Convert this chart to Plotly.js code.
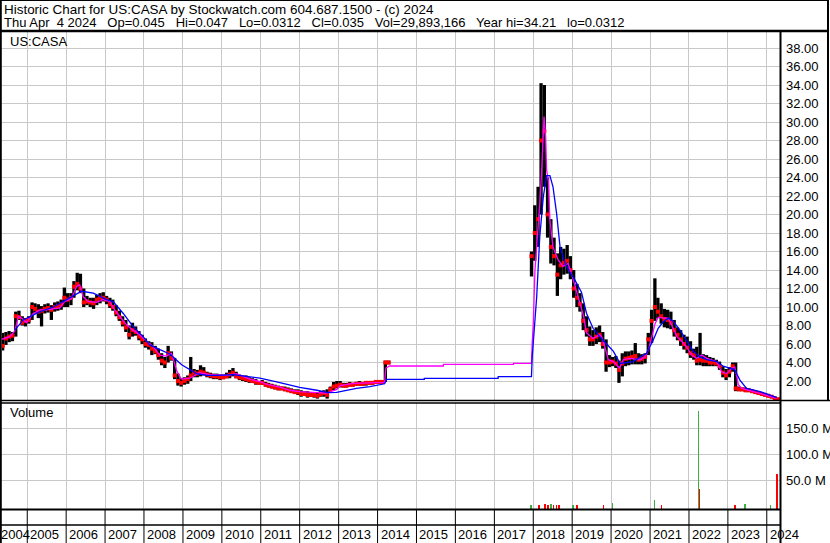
<!DOCTYPE html>
<html><head><meta charset="utf-8">
<script src="https://cdn.plot.ly/plotly-3.0.1.min.js"></script>
<style>html,body{margin:0;padding:0;background:#fff;}#chart{width:830px;height:543px;}</style>
</head><body><div id="chart"></div>
<script>
// ---------- DATA ----------
const months = [
'2004-05','2004-06','2004-07','2004-08','2004-09','2004-10','2004-11','2004-12',
'2005-01','2005-02','2005-03','2005-04','2005-05','2005-06','2005-07','2005-08','2005-09','2005-10','2005-11','2005-12',
'2006-01','2006-02','2006-03','2006-04','2006-05','2006-06','2006-07','2006-08','2006-09','2006-10','2006-11','2006-12',
'2007-01','2007-02','2007-03','2007-04','2007-05','2007-06','2007-07','2007-08','2007-09','2007-10','2007-11','2007-12',
'2008-01','2008-02','2008-03','2008-04','2008-05','2008-06','2008-07','2008-08','2008-09','2008-10','2008-11','2008-12',
'2009-01','2009-02','2009-03','2009-04','2009-05','2009-06','2009-07','2009-08','2009-09','2009-10','2009-11','2009-12',
'2010-01','2010-02','2010-03','2010-04','2010-05','2010-06','2010-07','2010-08','2010-09','2010-10','2010-11','2010-12',
'2011-01','2011-02','2011-03','2011-04','2011-05','2011-06','2011-07','2011-08','2011-09','2011-10','2011-11','2011-12',
'2012-01','2012-02','2012-03','2012-04','2012-05','2012-06','2012-07','2012-08','2012-09','2012-10','2012-11','2012-12',
'2013-01','2013-02','2013-03','2013-04','2013-05','2013-06','2013-07','2013-08','2013-09','2013-10','2013-11','2013-12',
'2014-01','2014-02','2014-03','2014-04',
'2017-12',
'2018-01','2018-02','2018-03','2018-04','2018-05','2018-06','2018-07','2018-08','2018-09','2018-10','2018-11','2018-12',
'2019-01','2019-02','2019-03','2019-04','2019-05','2019-06','2019-07','2019-08','2019-09','2019-10','2019-11','2019-12',
'2020-01','2020-02','2020-03','2020-04','2020-05','2020-06','2020-07','2020-08','2020-09','2020-10','2020-11','2020-12',
'2021-01','2021-02','2021-03','2021-04','2021-05','2021-06','2021-07','2021-08','2021-09','2021-10','2021-11','2021-12',
'2022-01','2022-02','2022-03','2022-04','2022-05','2022-06','2022-07','2022-08','2022-09','2022-10','2022-11','2022-12',
'2023-01','2023-02','2023-03','2023-04','2023-05','2023-06','2023-07','2023-08','2023-09','2023-10','2023-11','2023-12',
'2024-01','2024-02','2024-03','2024-04'
];
const high = [
7.2,7.3,7.4,7.3,9.5,9.6,9.0,8.8,
9.0,10.5,10.4,10.3,10.1,10.3,10.4,10.2,10.5,10.6,10.8,12.1,
11.5,11.5,12.8,13.7,13.6,12.0,11.2,11.0,11.0,11.3,11.5,11.6,
11.2,11.0,10.8,10.2,9.6,9.0,8.6,8.0,8.3,7.9,7.4,7.0,
6.6,6.3,6.2,5.8,5.5,5.0,4.6,5.8,5.2,4.5,2.8,2.3,
2.4,2.6,4.6,3.3,3.2,3.7,3.5,3.0,2.9,2.8,2.8,2.7,
2.7,2.9,3.2,3.4,3.0,2.7,2.6,2.6,2.4,2.3,2.2,2.0,
2.1,1.9,1.8,1.7,1.6,1.5,1.4,1.4,1.3,1.2,1.1,1.1,
1.0,0.9,0.9,0.8,0.8,0.8,0.9,1.0,1.1,1.4,1.9,2.0,
2.0,1.8,1.8,1.9,1.8,1.9,2.0,1.9,2.0,2.0,2.0,2.0,
2.0,2.0,4.2,4.2,
16.0,
21.0,23.0,34.2,34.0,24.0,19.5,17.5,15.8,16.5,16.3,16.7,15.5,
14.0,12.5,11.5,10.4,9.0,7.9,7.5,7.8,8.0,7.3,6.5,4.8,
4.6,4.7,4.2,5.0,5.2,5.2,5.3,6.1,5.0,4.9,5.0,7.2,
9.7,13.1,11.0,10.4,9.8,9.7,9.5,8.6,7.8,7.5,7.0,6.8,
6.3,5.5,5.7,7.2,4.9,4.8,4.6,4.5,4.3,4.1,3.6,3.3,
3.5,4.0,4.0,1.4,1.3,1.3,1.2,1.1,1.0,0.9,0.8,0.7,
0.6,0.45,0.3,0.1
];
const low = [
5.3,5.9,6.2,6.3,6.8,8.6,8.0,7.9,
8.2,8.6,9.3,8.8,7.9,9.3,9.4,8.6,9.5,9.6,9.7,10.0,
10.0,10.2,11.0,11.8,11.5,10.0,10.2,10.0,9.8,10.2,10.4,10.6,
10.3,9.9,9.6,9.0,8.5,7.9,7.3,6.5,6.8,6.9,6.4,6.0,
5.6,5.4,4.8,4.9,4.3,3.7,3.4,4.0,4.2,2.2,1.5,1.4,
1.6,1.7,2.0,2.4,2.4,2.5,2.6,2.4,2.3,2.2,2.2,2.1,
2.2,2.3,2.3,2.5,2.3,2.1,2.0,1.9,1.8,1.8,1.6,1.6,
1.6,1.4,1.3,1.2,1.1,1.0,1.0,0.9,0.8,0.7,0.6,0.5,
0.3,0.4,0.2,0.3,0.2,0.1,0.3,0.3,0.1,0.7,1.0,1.2,
1.3,1.3,1.3,1.4,1.4,1.5,1.5,1.5,1.5,1.6,1.6,1.7,
1.7,1.8,1.9,3.8,
13.3,
15.0,16.5,20.0,23.0,17.5,14.7,14.5,11.2,13.0,13.5,13.6,13.0,
11.0,10.0,9.5,7.5,6.8,5.8,5.8,6.0,6.2,5.5,3.0,3.5,
3.6,3.4,1.8,2.5,3.6,3.7,3.8,3.8,3.8,3.8,3.9,4.8,
6.1,8.5,8.8,8.2,7.8,7.7,7.6,6.8,6.4,5.8,5.4,5.0,
4.5,4.3,3.7,3.7,3.6,3.6,3.6,3.6,3.6,3.2,2.4,2.1,
2.4,3.0,0.9,0.9,0.9,0.8,0.8,0.7,0.6,0.5,0.4,0.35,
0.25,0.15,0.05,0.03
];
const close = [
5.8,6.6,6.8,6.9,9.0,8.9,8.3,8.5,
8.6,10.0,9.8,9.5,9.6,9.8,9.9,9.7,10.0,10.1,10.3,11.0,
10.8,11.0,12.2,12.5,12.0,10.5,10.6,10.5,10.4,10.8,11.0,11.0,
10.8,10.3,10.0,9.4,8.9,8.3,7.8,7.0,7.5,7.3,6.8,6.5,
6.0,5.9,5.5,5.2,4.8,4.2,4.0,5.0,4.5,2.6,2.0,1.8,
2.0,2.2,2.6,2.9,2.8,3.0,2.9,2.7,2.6,2.5,2.5,2.4,
2.4,2.5,2.7,2.9,2.5,2.4,2.3,2.2,2.1,2.0,1.9,1.8,
1.8,1.6,1.5,1.4,1.3,1.2,1.2,1.1,1.0,0.9,0.8,0.8,
0.6,0.6,0.5,0.5,0.5,0.4,0.6,0.7,0.5,1.1,1.4,1.5,
1.6,1.5,1.5,1.6,1.6,1.7,1.7,1.7,1.8,1.8,1.8,1.9,
1.9,1.9,4.0,4.0,
15.5,
18.0,19.5,28.0,29.0,20.0,16.5,15.5,13.5,14.5,14.8,15.0,14.0,
12.0,11.0,10.3,8.5,7.5,6.5,6.5,6.8,7.0,6.0,4.0,4.0,
4.1,3.9,3.2,3.9,4.4,4.5,4.6,4.7,4.3,4.4,4.6,6.5,
8.5,10.0,9.5,9.0,8.7,8.6,8.3,7.5,7.0,6.5,6.0,5.6,
5.0,4.8,4.2,4.3,4.2,4.2,4.0,4.0,3.9,3.6,2.9,2.6,
3.0,3.6,1.2,1.1,1.1,1.0,1.0,0.9,0.8,0.7,0.6,0.5,
0.4,0.3,0.15,0.035
];

// 50-day moving average (magenta)
const ma50Dates = ['2004-05-05','2004-07-20','2004-09-06','2004-10-10','2004-11-07','2004-12-24','2005-02-25','2005-05-01','2005-07-01','2005-09-02','2005-11-03','2005-12-20','2006-02-20','2006-04-08','2006-05-08','2006-06-10','2006-07-27','2006-10-12','2006-12-13','2007-02-14','2007-04-01','2007-05-18','2007-07-19','2007-09-20','2007-11-21','2008-01-26','2008-03-28','2008-05-29','2008-07-30','2008-09-16','2008-11-03','2008-12-17','2009-03-07','2009-06-05','2009-09-09','2010-02-14','2010-05-19','2010-09-20','2011-01-01','2011-02-25','2011-06-28','2011-10-01','2012-01-01','2012-09-10','2012-12-15','2013-01-15','2013-05-20','2014-03-08','2014-03-20','2014-04-25','2015-09-10','2015-09-11','2017-06-28','2017-06-29','2017-12-15','2017-12-22','2018-01-01','2018-01-17','2018-02-17','2018-03-03','2018-03-21','2018-04-05','2018-04-12','2018-04-27','2018-05-06','2018-05-22','2018-06-06','2018-07-05','2018-08-22','2018-10-08','2018-11-24','2019-01-12','2019-03-14','2019-04-16','2019-05-16','2019-07-16','2019-09-16','2019-10-05','2019-11-03','2019-12-06','2020-01-23','2020-03-20','2020-04-23','2020-06-28','2020-09-27','2020-11-14','2020-12-17','2021-01-15','2021-02-17','2021-03-18','2021-05-05','2021-06-22','2021-07-25','2021-09-10','2021-10-24','2021-12-10','2022-01-26','2022-03-14','2022-05-01','2022-06-18','2022-09-17','2022-11-03','2022-12-20','2023-02-06','2023-03-07','2023-03-25','2023-04-09','2023-05-12','2023-07-13','2023-10-31','2024-04-04'];
const ma50 = [6.5,6.8,7.4,9.0,8.8,8.3,9.3,9.7,9.7,9.8,9.9,10.6,10.9,12.2,12.4,11.1,10.6,10.5,10.8,10.6,9.7,9.0,8.1,7.5,7.0,6.3,5.7,4.8,4.7,5.0,3.1,2.2,2.3,2.9,2.7,2.6,2.8,2.2,1.9,1.65,1.35,1.0,0.85,0.7,1.1,1.5,1.75,1.85,3.4,3.62,3.62,3.8,3.8,3.9,3.9,6.1,8.2,14.0,18.7,21.2,24.8,30.2,30.6,28.4,24.8,23.7,19.4,16.5,15.1,14.4,14.7,12.9,10.4,9.1,7.2,6.6,7.0,6.8,5.7,4.3,4.1,3.4,4.3,4.45,4.3,4.6,5.4,6.8,8.2,8.9,8.8,8.8,7.9,6.8,6.3,5.7,4.8,4.45,4.8,4.45,4.1,3.0,2.8,3.4,3.5,2.5,1.6,1.2,1.0,0.6,0.13];

// 200-day moving average (blue)
const ma200Dates = ['2004-09-06','2004-11-24','2005-05-01','2005-09-02','2006-01-04','2006-05-26','2006-09-13','2007-01-15','2007-03-18','2007-06-21','2007-09-20','2007-12-24','2008-02-24','2008-05-29','2008-09-02','2008-12-20','2009-03-07','2009-05-08','2009-08-11','2009-11-14','2010-04-16','2010-09-20','2010-12-24','2011-05-30','2011-12-02','2012-01-01','2012-06-10','2012-09-24','2012-12-12','2013-03-18','2013-06-17','2013-10-20','2014-03-08','2014-03-28','2015-03-15','2015-03-16','2017-02-05','2017-02-06','2017-12-15','2017-12-22','2018-02-02','2018-03-03','2018-04-05','2018-05-06','2018-06-06','2018-07-05','2018-08-08','2018-09-09','2018-10-27','2018-12-09','2019-01-27','2019-03-29','2019-05-16','2019-07-16','2019-09-16','2019-11-20','2020-01-23','2020-03-25','2020-07-27','2020-11-28','2021-01-30','2021-03-18','2021-05-05','2021-06-22','2021-08-08','2021-10-09','2021-12-10','2022-02-10','2022-04-12','2022-06-18','2022-09-17','2022-11-18','2023-01-19','2023-03-07','2023-04-24','2023-06-25','2023-10-31','2024-04-04'];
const ma200 = [7.5,8.6,9.5,10.0,10.8,11.7,11.5,10.8,10.6,9.3,7.9,6.8,5.9,5.4,4.9,3.75,3.2,2.8,2.6,2.6,2.7,2.5,2.3,1.9,1.4,1.3,1.0,0.75,0.78,1.03,1.2,1.4,1.7,2.18,2.18,2.29,2.29,2.47,2.47,4.6,11.1,17.6,21.9,24.2,24.2,23.0,20.1,16.5,14.7,13.8,12.9,11.6,9.3,7.7,6.8,6.0,5.2,3.9,4.1,5.0,6.4,7.7,8.4,8.8,8.4,7.5,6.3,5.2,4.6,4.3,4.1,3.6,3.4,3.2,2.1,1.2,0.85,0.2];

// Volume (millions of shares); up = green, down = red
const volDates = ['2017-12-12','2018-02-25','2018-04-22','2018-05-20','2018-06-15','2018-07-10','2018-08-05','2018-09-01','2019-01-08','2019-02-14','2019-10-20','2020-01-15','2021-02-10','2021-04-20','2022-04-01','2022-04-08','2023-03-08','2023-06-10','2024-02-05','2024-04-04'];
const volM = [2,3,4,3,4,3,2,3,2,3,2,6,13,2,183,33,2,4,3,62];
const volUp = [true,false,false,false,true,false,false,false,true,false,false,true,true,false,true,false,false,true,true,false];

const priceTicks = [2,4,6,8,10,12,14,16,18,20,22,24,26,28,30,32,34,36,38];
const volTicks = [50,100,150];
const volTickText = ['50.0 M','100.0 M','150.0 M'];
const yearLabels = [2004,2005,2006,2007,2008,2009,2010,2011,2012,2013,2014,2015,2016,2017,2018,2019,2020,2021,2022,2023,2024];

const headerLine1 = 'Historic Chart for US:CASA by Stockwatch.com 604.687.1500 - (c) 2024';
const headerLine2 = 'Thu Apr\u00a0 4 2024\u00a0\u00a0 Op=0.045\u00a0\u00a0 Hi=0.047\u00a0\u00a0 Lo=0.0312\u00a0\u00a0 Cl=0.035\u00a0\u00a0 Vol=29,893,166\u00a0\u00a0 Year hi=34.21\u00a0\u00a0 lo=0.0312';

// ---------- LAYOUT HELPERS ----------
const W = 830, H = 543;
const fx = p => p / W;
const fy = p => 1 - p / H;
const FONT = 'Liberation Sans, Arial, sans-serif';
const GRID = '#c8c8c8';
const X_START = '2004-05-09', X_END = '2024-05-04';
const VOL_MIN = -5.2e6, VOL_MAX = 199.6e6;

// price bars (high-low segments)
const barX = [], barY = [];
months.forEach((m, i) => { const d = m + '-15'; barX.push(d, d, null); barY.push(low[i], high[i], null); });
const closeX = months.map(m => m + '-15');

const traces = [
  {type:'scatter', mode:'lines', x:barX, y:barY, xaxis:'x2', yaxis:'y2', connectgaps:false,
   line:{color:'#000000', width:3.3}, hoverinfo:'skip'},
  {type:'scatter', mode:'markers', x:closeX, y:close, xaxis:'x2', yaxis:'y2',
   marker:{symbol:'square', size:4, color:'#ff0000', line:{width:0}}, hoverinfo:'skip'},
  {type:'scatter', mode:'lines', x:ma50Dates, y:ma50, xaxis:'x2', yaxis:'y2',
   line:{color:'#ff00ff', width:1.3}, hoverinfo:'skip'},
  {type:'scatter', mode:'lines', x:ma200Dates, y:ma200, xaxis:'x2', yaxis:'y2',
   line:{color:'#0000ff', width:1.3}, hoverinfo:'skip'},
  {type:'bar', x:volDates, y:volM.map(v => v * 1e6 - VOL_MIN), base:VOL_MIN, xaxis:'x', yaxis:'y',
   width:14 * 864e5, marker:{color:volUp.map(u => u ? '#3cb043' : '#ff0000'), line:{width:0}}, hoverinfo:'skip'}
];

const xCommon = {type:'date', domain:[fx(2), fx(780)], range:[X_START, X_END], showgrid:true, gridcolor:GRID, gridwidth:1,
  tick0:'2005-01-01', dtick:'M12', ticks:'', showticklabels:false, zeroline:false, showline:false, fixedrange:true};

const shapes = [];
const line = (x0, y0, x1, y1, w) => shapes.push({type:'line', xref:'paper', yref:'paper', x0:fx(x0), y0:fy(y0), x1:fx(x1), y1:fy(y1), line:{color:'#000', width:w}});
line(0, 0.5, 829, 0.5, 1);          // top border
line(0.8, 0, 0.8, 543, 2);           // left border
line(0, 31, 829, 31, 2.5);           // header bottom
line(828, 0, 828, 400, 2);           // right border
line(780.5, 31, 780.5, 543, 2);      // axis line
line(0, 400.5, 830, 400.5, 1.3);     // price bottom
line(0, 403, 780, 403, 1.3);         // volume top
line(0, 509.5, 780, 509.5, 2);       // volume bottom
line(0, 525, 780, 525, 1.5);         // label row separator
yearLabels.slice(1).forEach(y => shapes.push({type:'line', xref:'x', yref:'paper', x0:y + '-01-01', x1:y + '-01-01',
  y0:fy(543), y1:fy(509), line:{color:'#000', width:1}}));

const annotations = [
  {text:headerLine1, xref:'paper', yref:'paper', x:fx(2), y:fy(9.5), xanchor:'left', yanchor:'middle', showarrow:false, font:{family:FONT, size:13.45, color:'#000'}},
  {text:headerLine2, xref:'paper', yref:'paper', x:fx(2), y:fy(22.5), xanchor:'left', yanchor:'middle', showarrow:false, font:{family:FONT, size:13, color:'#000'}},
  {text:'US:CASA', xref:'paper', yref:'paper', x:fx(8), y:fy(41.5), xanchor:'left', yanchor:'middle', showarrow:false, font:{family:FONT, size:13, color:'#000'}},
  {text:'Volume', xref:'paper', yref:'paper', x:fx(8), y:fy(413), xanchor:'left', yanchor:'middle', showarrow:false, font:{family:FONT, size:13, color:'#000'}}
];
yearLabels.forEach((y, i) => annotations.push({text:String(y), xref:'x', yref:'paper',
  x: i === 0 ? X_START : y + '-01-01', xshift: i === 0 ? -3 : 1, y:fy(534), xanchor:'left', yanchor:'middle',
  showarrow:false, font:{family:FONT, size:13, color:'#000'}}));

const layout = {
  width:W, height:H, margin:{l:0, r:0, t:0, b:0}, paper_bgcolor:'#fff', plot_bgcolor:'#fff', showlegend:false,
  xaxis: Object.assign({}, xCommon, {anchor:'y'}),
  xaxis2: Object.assign({}, xCommon, {anchor:'y2', matches:'x'}),
  yaxis: {domain:[fy(509), fy(402.5)], range:[VOL_MIN, VOL_MAX], side:'right', anchor:'x',
    tickvals:volTicks.map(v => v * 1e6), ticktext:volTickText, showgrid:true, gridcolor:GRID, zeroline:false, showline:false,
    ticks:'', ticklabelstandoff:5, tickfont:{family:FONT, size:13, color:'#000'}, fixedrange:true},
  yaxis2: {domain:[fy(400), fy(31)], range:[-0.054, 39.84], side:'right', anchor:'x2',
    tickvals:priceTicks, ticktext:priceTicks.map(v => v.toFixed(2)), showgrid:true, gridcolor:GRID, zeroline:false, showline:false,
    ticks:'', ticklabelstandoff:5, tickfont:{family:FONT, size:13, color:'#000'}, fixedrange:true},
  shapes, annotations, bargap:0
};

Plotly.newPlot('chart', traces, layout, {staticPlot:true, displayModeBar:false});
</script></body></html>
